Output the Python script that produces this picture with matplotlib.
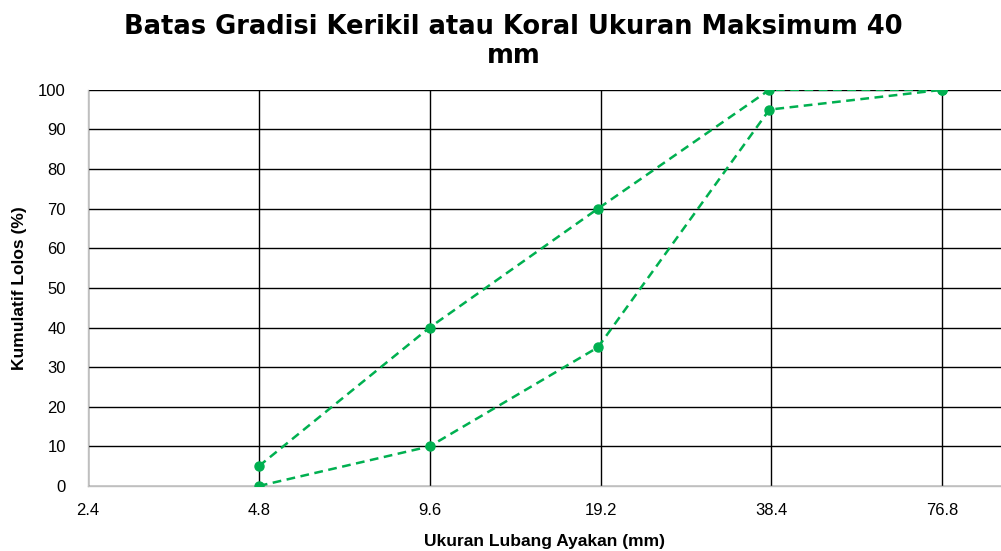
import matplotlib.pyplot as plt
import numpy as np

# sieve sizes (mm) and grading limits (% passing)
ukuran = [4.8, 9.6, 19.0, 38.1, 76.8]
batas_atas = [5, 40, 70, 100, 100]
batas_bawah = [0, 10, 35, 95, 100]
xticks = [2.4, 4.8, 9.6, 19.2, 38.4, 76.8]
xticklabels = ['2.4', '4.8', '9.6', '19.2', '38.4', '76.8']

plt.rcParams['font.family'] = ['Liberation Sans', 'DejaVu Sans']

fig = plt.figure(figsize=(10.01, 5.51), dpi=100)
ax = fig.add_axes([0.0879, 0.118, 0.9121, 0.719])

green = '#00B050'
ax.plot(ukuran, batas_atas, color=green, linestyle='--', linewidth=1.8,
        marker='o', markersize=6.5, dashes=(3.5, 2.2), zorder=3)
ax.plot(ukuran, batas_bawah, color=green, linestyle='--', linewidth=1.8,
        marker='o', markersize=6.5, dashes=(3.5, 2.2), zorder=3)

ax.set_xscale('log', base=2)
ax.set_xlim(2.4, 97.5)
ax.set_ylim(0, 100)
ax.set_xticks(xticks)
ax.set_xticklabels(xticklabels, fontsize=12)
ax.minorticks_off()
ax.set_yticks(np.arange(0, 101, 10))
ax.tick_params(axis='y', labelsize=12, length=0, pad=16)
ax.tick_params(axis='x', length=0, pad=12)

ax.grid(True, color='black', linewidth=1.0)
ax.set_axisbelow(True)
for s in ['top', 'right']:
    ax.spines[s].set_visible(False)
for s in ['left', 'bottom']:
    ax.spines[s].set_color('#BFBFBF')
    ax.spines[s].set_linewidth(1.0)

ax.set_xlabel('Ukuran Lubang Ayakan (mm)', fontsize=12.5, fontweight='bold', labelpad=12)
ax.set_ylabel('Kumulatif Lolos (%)', fontsize=12.5, fontweight='bold', labelpad=8)
fig.text(0.513, 0.975, 'Batas Gradisi Kerikil atau Koral Ukuran Maksimum 40\nmm',
         ha='center', va='top', fontsize=18.5, fontweight='bold', linespacing=1.15,
         family='DejaVu Sans')

fig.savefig('out.png', dpi=100)
